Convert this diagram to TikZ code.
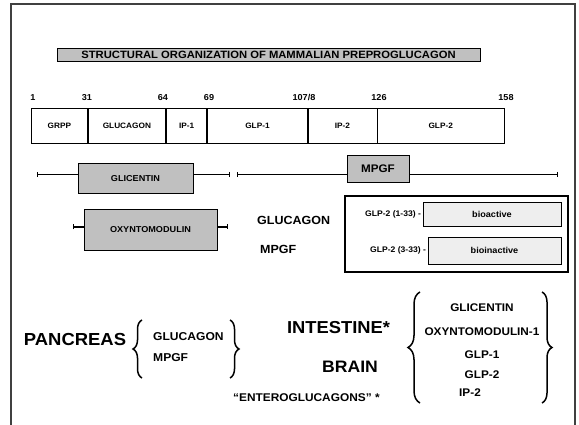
\documentclass[tikz,border=0pt]{standalone}
\usepackage{fontspec}
\setmainfont[FakeStretch=1.06]{Liberation Sans}
\usetikzlibrary{arrows.meta,positioning,decorations.pathreplacing}

\definecolor{boxgrey}{HTML}{C0C0C0}
\definecolor{palegrey}{HTML}{EEEEEE}
\definecolor{framegrey}{HTML}{404040}
\newcommand{\txtsize}[1]{\fontsize{#1}{#1}\selectfont\bfseries}

\tikzset{
  every node/.style={inner sep=0pt, font=\txtsize{8.6}},
  greybox/.style={draw, fill=boxgrey, line width=0.9pt},
  palebox/.style={draw, fill=palegrey, line width=0.6pt, font=\txtsize{8.6}},
  seg/.style={draw, line width=0.7pt, minimum height=35pt, font=\txtsize{7.8}},
  posnum/.style={font=\txtsize{8.6}},
  bar/.style={line width=1.3pt, {Bar[width=5pt]}-{Bar[width=5pt]}},
  curly/.style={decorate, decoration={brace, amplitude=#1}, line width=1.5pt},
  curly/.default=8pt,
}

\begin{document}
\begin{tikzpicture}[x=1pt,y=-1pt]
\useasboundingbox (0,0) rectangle (579,425);

% frame (left, top, right)
\fill[framegrey] (10,3) rectangle (12,425);
\fill[framegrey] (10,3) rectangle (576,5);
\fill[framegrey] (574,3) rectangle (576,425);

% title
\node[greybox, minimum width=423pt, minimum height=13pt, font=\txtsize{10.6}] (title) at (268.5,54.5)
  {STRUCTURAL ORGANIZATION OF MAMMALIAN PREPROGLUCAGON};

% residue numbers
\foreach \xpos/\num in {33/1, 87/31, 163/64, 209/69, 304/{107/8}, 379/126, 506/158}
  \node[posnum] (num-\xpos) at (\xpos,97.5) {\num};

% segments of the precursor
\node[seg, minimum width=56pt, anchor=west] (grpp) at (31,125.5) {GRPP};
\node[seg, minimum width=77.7pt, right=0pt of grpp] (gcg) {GLUCAGON};
\node[seg, minimum width=40.3pt, right=0pt of gcg] (ip1) {IP-1};
\node[seg, minimum width=100pt, right=0pt of ip1] (glp1) {GLP-1};
\node[seg, minimum width=68.7pt, right=0pt of glp1] (ip2) {IP-2};
\node[seg, minimum width=126.3pt, right=0pt of ip2] (glp2) {GLP-2};

% glicentin
\coordinate (glic-l) at (37,174.3);
\coordinate (glic-r) at (230,174.3);
\draw[bar] (glic-l) -- (glic-r);
\node[greybox, minimum width=115pt, minimum height=30pt, font=\txtsize{8.6}] (glic) at (135.5,178.3) {GLICENTIN};

% mpgf
\coordinate (mpgf-l) at (237,174.3);
\coordinate (mpgf-r) at (558,174.3);
\draw[bar] (mpgf-l) -- (mpgf-r);
\node[greybox, minimum width=62pt, minimum height=27pt, font=\txtsize{11}] (mpgf) at (378,168.5) {MPGF};

% oxyntomodulin
\coordinate (oxm-l) at (73,227);
\coordinate (oxm-r) at (228,227);
\draw[bar] (oxm-l) -- (oxm-r);
\node[greybox, minimum width=133pt, minimum height=41pt, font=\txtsize{8.6}] (oxm) at (150.5,229.5) {OXYNTOMODULIN};

\node[anchor=west, font=\txtsize{11.8}] (mid-gcg) at (257,220) {GLUCAGON};
\node[anchor=west, font=\txtsize{11.8}] (mid-mpgf) at (260,249) {MPGF};

% glp-2 forms
\draw[line width=2pt] (345,196) rectangle (568,272);
\node[palebox, minimum width=138pt, minimum height=24pt] (bioact) at (492,214) {bioactive};
\node[left=1.5pt of bioact, font=\txtsize{8.1}] (glp2a) {GLP-2 (1-33) -};
\node[palebox, minimum width=133pt, minimum height=27pt] (bioinact) at (494.5,250.5) {bioinactive};
\node[left=1.5pt of bioinact, font=\txtsize{8.1}] (glp2b) {GLP-2 (3-33) -};

% tissues
\node[font=\txtsize{17.4}] (pancreas) at (75,340) {PANCREAS};
\draw[curly=9pt] (142,378) -- (142,320);
\draw[curly=9pt] (230,320) -- (230,378);
\node[anchor=west, font=\txtsize{11.4}] (pan-gcg) at (153,337) {GLUCAGON};
\node[anchor=west, font=\txtsize{11.4}] (pan-mpgf) at (153,358) {MPGF};

\node[font=\txtsize{17.3}] (intestine) at (338.5,328) {INTESTINE*};
\node[font=\txtsize{16.6}] (brain) at (350,367) {BRAIN};
\node[anchor=west, font=\txtsize{11.2}] (entero) at (233,398) {“ENTEROGLUCAGONS” *};

\draw[curly=12pt] (420,403) -- (420,292);
\draw[curly=10pt] (542,292) -- (542,403);
\node[font=\txtsize{11.1}] (lst-glic) at (482,308) {GLICENTIN};
\node[font=\txtsize{11.1}] (lst-oxm) at (482,332) {OXYNTOMODULIN-1};
\node[font=\txtsize{11.1}] (lst-glp1) at (482,355) {GLP-1};
\node[font=\txtsize{11.1}] (lst-glp2) at (482,375) {GLP-2};
\node[font=\txtsize{11.1}] (lst-ip2) at (470,393) {IP-2};
\end{tikzpicture}
\end{document}
